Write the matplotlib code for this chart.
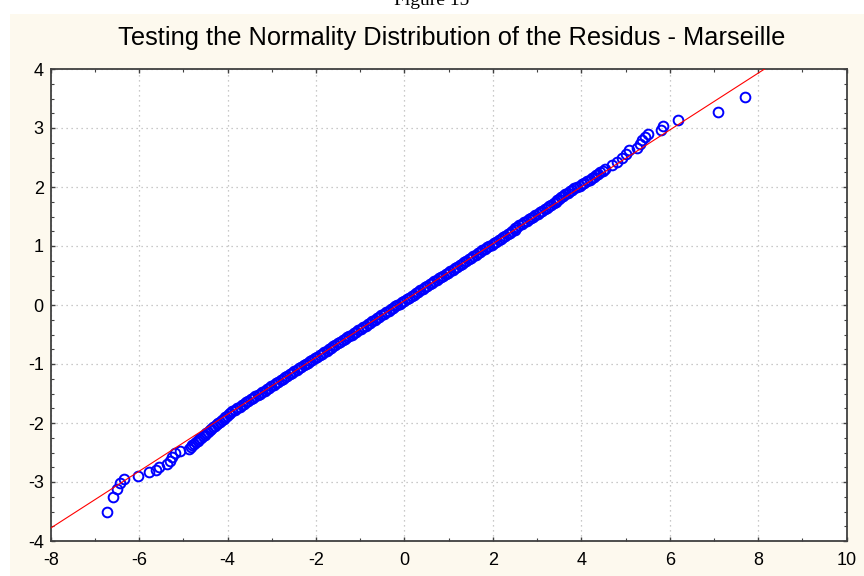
import matplotlib
matplotlib.use("Agg")
import matplotlib.pyplot as plt
import numpy as np
from matplotlib.patches import Rectangle
from matplotlib.ticker import MultipleLocator, FuncFormatter

# residuals (x) and expected normal values (y)
low_tail_x = [-6.72, -6.59, -6.50, -6.44, -6.34, -6.03, -5.78, -5.62, -5.56, -5.38,
              -5.31, -5.25, -5.19, -5.07, -4.87]
low_tail_y = [-3.50, -3.25, -3.12, -3.02, -2.95, -2.89, -2.83, -2.80, -2.75, -2.69,
              -2.64, -2.57, -2.51, -2.47, -2.44]

body_x = [-4.83, -4.80, -4.76, -4.72, -4.68, -4.64, -4.60, -4.56, -4.52, -4.48,
          -4.44, -4.40, -4.37, -4.33, -4.29, -4.25, -4.21, -4.17, -4.13, -4.09,
          -4.05, -4.01, -3.97, -3.94, -3.89, -3.84, -3.79, -3.73, -3.68, -3.63,
          -3.58, -3.53, -3.48, -3.42, -3.37, -3.32, -3.27, -3.22, -3.16, -3.11,
          -3.06, -3.01, -2.96, -2.90, -2.85, -2.80, -2.75, -2.70, -2.65, -2.59,
          -2.54, -2.49, -2.44, -2.39, -2.33, -2.28, -2.23, -2.18, -2.13, -2.08,
          -2.02, -1.97, -1.92, -1.87, -1.82, -1.76, -1.71, -1.66, -1.61, -1.56,
          -1.50, -1.45, -1.40, -1.35, -1.30, -1.25, -1.19, -1.14, -1.09, -1.04,
          -0.99, -0.93, -0.88, -0.83, -0.78, -0.73, -0.67, -0.62, -0.57, -0.52,
          -0.47, -0.42, -0.36, -0.31, -0.26, -0.21, -0.16, -0.10, -0.05, 0.00,
          0.05, 0.10, 0.16, 0.21, 0.26, 0.31, 0.36, 0.42, 0.47, 0.52,
          0.57, 0.62, 0.67, 0.73, 0.78, 0.83, 0.88, 0.93, 0.99, 1.04,
          1.09, 1.14, 1.19, 1.25, 1.30, 1.35, 1.40, 1.45, 1.50, 1.56,
          1.61, 1.66, 1.71, 1.76, 1.82, 1.87, 1.92, 1.97, 2.02, 2.07,
          2.13, 2.18, 2.23, 2.28, 2.33, 2.39, 2.44, 2.49, 2.49, 2.54,
          2.60, 2.65, 2.70, 2.77, 2.82, 2.87, 2.91, 2.96, 3.01, 3.06,
          3.11, 3.17, 3.22, 3.27, 3.32, 3.37, 3.42, 3.45, 3.49, 3.53,
          3.58, 3.63, 3.69, 3.74, 3.79, 3.84, 3.90, 3.96, 4.02, 4.07,
          4.13, 4.19, 4.24, 4.29, 4.34, 4.38, 4.43, 4.48, 4.54]
body_y = [-2.400, -2.375, -2.350, -2.325, -2.300, -2.275, -2.250, -2.225, -2.200, -2.175,
          -2.150, -2.125, -2.100, -2.075, -2.050, -2.025, -2.000, -1.975, -1.950, -1.925,
          -1.900, -1.875, -1.850, -1.825, -1.800, -1.775, -1.750, -1.725, -1.700, -1.675,
          -1.650, -1.625, -1.600, -1.575, -1.550, -1.525, -1.500, -1.475, -1.450, -1.425,
          -1.400, -1.375, -1.350, -1.325, -1.300, -1.275, -1.250, -1.225, -1.200, -1.175,
          -1.150, -1.125, -1.100, -1.075, -1.050, -1.025, -1.000, -0.975, -0.950, -0.925,
          -0.900, -0.875, -0.850, -0.825, -0.800, -0.775, -0.750, -0.725, -0.700, -0.675,
          -0.650, -0.625, -0.600, -0.575, -0.550, -0.525, -0.500, -0.475, -0.450, -0.425,
          -0.400, -0.375, -0.350, -0.325, -0.300, -0.275, -0.250, -0.225, -0.200, -0.175,
          -0.150, -0.125, -0.100, -0.075, -0.050, -0.025, 0.000, 0.025, 0.050, 0.075,
          0.100, 0.125, 0.150, 0.175, 0.200, 0.225, 0.250, 0.275, 0.300, 0.325,
          0.350, 0.375, 0.400, 0.425, 0.450, 0.475, 0.500, 0.525, 0.550, 0.575,
          0.600, 0.625, 0.650, 0.675, 0.700, 0.725, 0.750, 0.775, 0.800, 0.825,
          0.850, 0.875, 0.900, 0.925, 0.950, 0.975, 1.000, 1.025, 1.050, 1.075,
          1.100, 1.125, 1.150, 1.175, 1.200, 1.225, 1.250, 1.275, 1.300, 1.325,
          1.350, 1.375, 1.400, 1.425, 1.450, 1.475, 1.500, 1.525, 1.550, 1.575,
          1.600, 1.625, 1.650, 1.675, 1.700, 1.725, 1.750, 1.775, 1.800, 1.825,
          1.850, 1.875, 1.900, 1.925, 1.950, 1.975, 2.000, 2.025, 2.050, 2.075,
          2.100, 2.125, 2.150, 2.175, 2.200, 2.225, 2.250, 2.275, 2.300]

high_tail_x = [4.70, 4.81, 4.93, 5.00, 5.08, 5.26, 5.32, 5.38, 5.44, 5.51,
               5.79, 5.84, 6.19, 7.10, 7.69]
high_tail_y = [2.37, 2.43, 2.50, 2.56, 2.62, 2.66, 2.73, 2.79, 2.84, 2.89,
               2.96, 3.03, 3.13, 3.27, 3.53]

# reference line of the normal plot
fit_intercept = 0.075
fit_slope = 0.482

title = "Testing the Normality Distribution of the Residus - Marseille"

resid = np.array(low_tail_x + body_x + high_tail_x)
expected = np.array(low_tail_y + body_y + high_tail_y)

fig = plt.figure(figsize=(8.64, 5.76), dpi=100, facecolor="white")
fig.patches.append(Rectangle((10 / 864, 0), 1, 1 - 14 / 576, transform=fig.transFigure,
                             facecolor="#fdf9ee", edgecolor="none", zorder=-10))
fig.text(0.5, 1 - 5 / 576, "Figure 15", ha="center", va="baseline",
         fontsize=14, family="Liberation Serif")
fig.text(452 / 864, 1 - 38 / 576, title, ha="center", va="center",
         fontsize=18.3, family="Liberation Sans")

ax = fig.add_axes([50.7 / 864, 35 / 576, 796 / 864, 472 / 576])
ax.set_facecolor("white")

xl = np.array([-8, 10])
ax.plot(xl, fit_intercept + fit_slope * xl, color="red", lw=0.8, zorder=3)
ax.plot(resid, expected, "o", mfc="none", mec="#0000ff", ms=7.0, mew=1.4, zorder=2)

ax.set_xlim(-8, 10)
ax.set_ylim(-4, 4)
ax.xaxis.set_major_locator(MultipleLocator(2))
ax.xaxis.set_minor_locator(MultipleLocator(1))
ax.yaxis.set_major_locator(MultipleLocator(1))
ax.yaxis.set_minor_locator(MultipleLocator(0.25))
ax.grid(True, which="major", ls=(0, (1, 3)), color="#b8b8b8", lw=0.9)
ax.tick_params(which="both", direction="in", top=True, right=True, colors="#404040",
               labelcolor="black", labelsize=13)
ax.tick_params(which="major", length=3, width=1)
ax.tick_params(which="minor", length=2, width=0.8)
ax.tick_params(axis="x", pad=8)
ax.tick_params(axis="y", pad=5)
ax.xaxis.set_major_formatter(FuncFormatter(lambda v, p: f"{v:.0f}"))
ax.yaxis.set_major_formatter(FuncFormatter(lambda v, p: f"{v:.0f}"))
for lab in ax.get_xticklabels() + ax.get_yticklabels():
    lab.set_family("Liberation Sans")
for side in ["top", "bottom", "left", "right"]:
    ax.spines[side].set_color("#404040")
    ax.spines[side].set_linewidth(1.3)

fig.savefig("out.png", dpi=100)
